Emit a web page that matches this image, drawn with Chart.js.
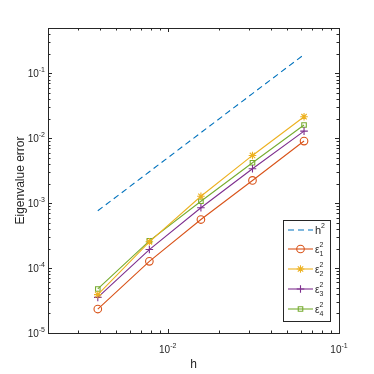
<!DOCTYPE html>
<html><head><meta charset="utf-8">
<script src="https://cdn.jsdelivr.net/npm/chart.js@4/dist/chart.umd.min.js"></script>
<style>html,body{margin:0;padding:0;background:#fff}#wrap{width:374px;height:374px}</style>
</head><body><div id="wrap"><canvas id="c" width="374" height="374"></canvas></div>
<script>
const hValues = [0.00390625, 0.0078125, 0.015625, 0.03125, 0.0625];
const refH2 = [7.63e-4, 3.05e-3, 1.22e-2, 4.88e-2, 0.195];
const eps1 = [2.34e-5, 1.27e-4, 5.6e-4, 2.24e-3, 9.06e-3];
const eps2 = [3.9e-5, 2.54e-4, 1.28e-3, 5.44e-3, 2.15e-2];
const eps3 = [3.54e-5, 1.93e-4, 8.49e-4, 3.40e-3, 1.29e-2];
const eps4 = [4.77e-5, 2.63e-4, 1.07e-3, 4.2e-3, 1.6e-2];
const xTickExps = [-2, -1];
const yTickExps = [-5, -4, -3, -2, -1];
const seriesNames = ['h', 'ε', 'ε', 'ε', 'ε'];
const seriesSup = ['2', '2', '2', '2', '2'];
const seriesSub = ['', '1', '2', '3', '4'];

const colors = ['#0072BD', '#D95319', '#EDB120', '#7E2F8E', '#77AC30'];
const styles = [false, 'circle', 'star', 'cross', 'rect'];
const all = [refH2, eps1, eps2, eps3, eps4];
const pts = arr => arr.map((v, i) => ({x: hValues[i], y: v}));

const datasets = all.map((arr, i) => ({
  data: pts(arr),
  borderColor: colors[i],
  borderWidth: 1.1,
  borderDash: i === 0 ? [6, 4] : [],
  pointStyle: styles[i],
  pointRadius: i === 0 ? 0 : (i === 4 ? 3.2 : 3.8),
  pointBorderColor: colors[i],
  pointBackgroundColor: 'rgba(0,0,0,0)',
  pointBorderWidth: 1.1,
  fill: false,
  tension: 0
}));

const axisColor = '#262626';
const FONT = '"Liberation Sans", Arial, sans-serif';

function drawPow(ctx, x, y, align, exp) {
  const base = '10', sup = String(exp);
  ctx.font = '10px ' + FONT;
  const wb = ctx.measureText(base).width;
  ctx.font = '7px ' + FONT;
  const ws = ctx.measureText(sup).width;
  let x0 = align === 'right' ? x - wb - ws : x - (wb + ws) / 2;
  ctx.textAlign = 'left';
  ctx.textBaseline = 'middle';
  ctx.font = '10px ' + FONT;
  ctx.fillText(base, x0, y);
  ctx.font = '7px ' + FONT;
  ctx.fillText(sup, x0 + wb, y - 4);
}

const framePlugin = {
  id: 'frame',
  afterDatasetsDraw(chart) {
    const {ctx, chartArea: a, scales} = chart;
    const xs = scales.x, ys = scales.y;
    ctx.save();
    ctx.strokeStyle = axisColor;
    ctx.fillStyle = axisColor;
    ctx.lineWidth = 1;
    const majL = 4, minL = 2.5;
    ctx.beginPath();
    for (let e = -3; e <= -1; e++) {
      for (let m = 1; m <= 9; m++) {
        const v = m * Math.pow(10, e);
        if (v < xs.min - 1e-12 || v > xs.max + 1e-12) continue;
        const px = Math.round(xs.getPixelForValue(v)) + 0.5;
        const L = m === 1 ? majL : minL;
        ctx.moveTo(px, a.bottom); ctx.lineTo(px, a.bottom - L);
        ctx.moveTo(px, a.top); ctx.lineTo(px, a.top + L);
      }
    }
    for (let e = -5; e <= -1; e++) {
      for (let m = 1; m <= 9; m++) {
        const v = m * Math.pow(10, e);
        if (v < ys.min * 0.999 || v > ys.max * 1.001) continue;
        const py = Math.round(ys.getPixelForValue(v)) + 0.5;
        const L = m === 1 ? majL : minL;
        ctx.moveTo(a.left, py); ctx.lineTo(a.left + L, py);
        ctx.moveTo(a.right, py); ctx.lineTo(a.right - L, py);
      }
    }
    ctx.stroke();
    ctx.strokeRect(Math.round(a.left) + 0.5, Math.round(a.top) + 0.5, Math.round(a.right - a.left), Math.round(a.bottom - a.top));
    ctx.fillStyle = axisColor;
    yTickExps.forEach(e => {
      drawPow(ctx, a.left - 3, ys.getPixelForValue(Math.pow(10, e)) + 1, 'right', e);
    });
    xTickExps.forEach(e => {
      drawPow(ctx, xs.getPixelForValue(Math.pow(10, e)), a.bottom + 17, 'center', e);
    });
    // legend
    const lx = 283.5, ly = 220.5, lw = 47, lh = 101;
    ctx.fillStyle = '#fff';
    ctx.fillRect(lx, ly, lw, lh);
    ctx.strokeStyle = axisColor;
    ctx.strokeRect(lx, ly, lw, lh);
    const rowsY = [230, 249, 269, 289, 309];
    datasets.forEach((d, i) => {
      const y = rowsY[i];
      ctx.save();
      ctx.strokeStyle = d.borderColor;
      ctx.fillStyle = 'rgba(0,0,0,0)';
      ctx.lineWidth = 1.1;
      ctx.setLineDash(d.borderDash);
      ctx.beginPath(); ctx.moveTo(288, y); ctx.lineTo(313, y); ctx.stroke();
      ctx.setLineDash([]);
      if (d.pointStyle) {
        Chart.helpers.drawPoint(ctx, {pointStyle: d.pointStyle, radius: d.pointRadius, rotation: 0, borderWidth: 1.1}, 300.5, y);
      }
      ctx.restore();
      ctx.fillStyle = axisColor;
      ctx.textAlign = 'left';
      ctx.textBaseline = 'middle';
      ctx.font = (i === 0 ? '11px ' : '10px ') + FONT;
      ctx.fillText(seriesNames[i], 315, y + 1);
      const w = ctx.measureText(seriesNames[i]).width;
      ctx.font = '7px ' + FONT;
      ctx.fillText(seriesSup[i], 315 + w, y - 4);
      if (seriesSub[i]) ctx.fillText(seriesSub[i], 315 + w, y + 5);
    });
    ctx.restore();
  }
};

new Chart(document.getElementById('c'), {
  type: 'line',
  data: {datasets},
  options: {
    responsive: false,
    animation: false,
    devicePixelRatio: 1,
    layout: {padding: {top: 28, right: 35, left: 0, bottom: 0}},
    plugins: {legend: {display: false}, tooltip: {enabled: false}},
    scales: {
      x: {
        type: 'logarithmic', min: 0.002, max: 0.1,
        grid: {display: false, drawTicks: false},
        border: {display: false},
        ticks: {display: false},
        afterFit(s) { s.height = 41; },
        title: {display: true, text: 'h', color: axisColor, font: {family: FONT, size: 12}, padding: {top: 0, bottom: 2}}
      },
      y: {
        type: 'logarithmic', min: 1e-5, max: 0.5,
        grid: {display: false, drawTicks: false},
        border: {display: false},
        ticks: {display: false},
        afterFit(s) { s.width = 48; },
        title: {display: true, text: 'Eigenvalue error', color: axisColor, font: {family: FONT, size: 12}, padding: {top: 13, bottom: 0}}
      }
    }
  },
  plugins: [framePlugin]
});
</script>
</body></html>
